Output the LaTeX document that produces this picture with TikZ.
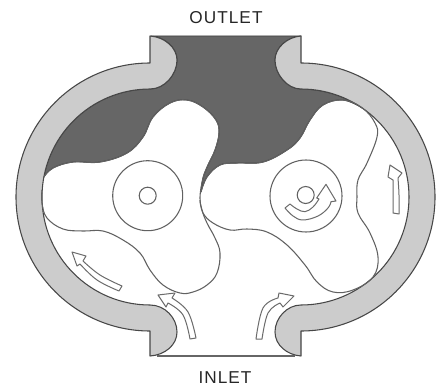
\documentclass[tikz,border=0pt]{standalone}
\usepackage{fontspec}
\setmainfont{Liberation Sans}[LetterSpace=6]
\tikzset{
  casing/.style={fill=black!20,draw=black!72,line width=0.8pt,line join=round},
  chamber/.style={fill=black!60,draw=black!75,line width=0.7pt,line join=round},
  rotor/.style={draw=black!62,line width=0.8pt},
  flowarrow/.style={fill=white,draw=black!58,line width=0.75pt,line join=round},
  caption/.style={font=\fontsize{12.9pt}{14pt}\selectfont,text=black!85,inner sep=0pt,anchor=base},
  sm/.style={smooth,tension=0.65}
}
\begin{document}
\begin{tikzpicture}[x=0.75pt,y=-0.75pt]
\useasboundingbox (0,0) rectangle (439,385);
\fill[white] (0,0) rectangle (439,385);
% discharge chamber
\path[chamber] (151,36) -- (301,36)
  .. controls (287,37) and (275,48) .. (275,60)
  .. controls (275,74) and (287,89) .. (301,89)
  arc[start angle=270,end angle=304.6,radius=108]
  -- plot[sm] coordinates {(362.4,108) (343,100) (323,105) (310,120) (300,138) (287,150) (263,162) (237,163) (220,165) (207,177) (201,192)}
  -- plot[sm] coordinates {(201,192) (203,178) (208,165) (215,150) (219,133) (216,120) (203,107) (187,100) (170,103) (153,117) (143,137) (127,153) (100,162) (73,162) (53,168) (43.8,177.1)}
  arc[start angle=190.6,end angle=270,radius=108]
  .. controls (165,89) and (177,74) .. (177,60)
  .. controls (177,48) and (165,37) .. (151,36) -- cycle;
% casing halves
\path[casing] (150,36) -- (150,63)
  arc[start angle=270,end angle=90,radius=134]
  -- (150,356)
  .. controls (165,355) and (177,345) .. (177,332)
  .. controls (177,318) and (165,305) .. (150,305)
  arc[start angle=90,end angle=270,radius=108]
  .. controls (165,89) and (177,74) .. (177,60)
  .. controls (177,48) and (165,37) .. (150,36) -- cycle;
\path[casing] (301,36) -- (301,63)
  arc[start angle=270,end angle=450,radius=134]
  -- (301,356)
  .. controls (287,355) and (275,345) .. (275,332)
  .. controls (275,318) and (287,305) .. (301,305)
  arc[start angle=90,end angle=-90,radius=108]
  .. controls (287,89) and (275,74) .. (275,60)
  .. controls (275,48) and (287,37) .. (301,36) -- cycle;
% inlet line
\draw[black!60,line width=0.9pt] (157,356) -- (295,356);
% rotors
\draw[rotor] plot[sm] coordinates {(43.8,177.1) (53,168) (73,162) (100,162) (127,153) (143,137) (153,117) (170,103) (187,100) (203,107) (216,120) (219,133) (215,150) (208,165) (203,178) (200,197) (202,210) (207,223) (215,238) (220,253) (217,273) (207,285) (193,292) (180,293) (163,285) (150,270) (140,253) (123,240) (103,231) (83,231) (63,229) (47,218) (42,203) (42,190)};
\draw[rotor] plot[sm] coordinates {(201,192) (207,177) (220,165) (237,163) (263,162) (287,150) (300,138) (310,120) (323,105) (343,100) (362.4,108) (375,123) (377,137) (367,163) (358,180) (357,197) (358,213) (370,233) (378,257) (373,277) (353,290) (333,292) (317,282) (305,265) (287,245) (267,232) (247,229) (230,230) (213,223) (203,213) (200,200)};
% shafts
\draw[rotor] (147.7,195.7) circle (35);
\draw[rotor] (147.7,195.7) circle (8.5);
\draw[rotor] (306,196) circle (36);
\draw[rotor] (305.7,195) circle (8.5);
% rotation arrow
\path[flowarrow] (285,208) -- (290,204)
  -- plot[sm] coordinates {(290,204) (297,209) (305,211.7) (313,207) (319,199)}
  -- (316.7,198) -- (326,184.3) -- (336,201) -- (331,201.7)
  -- plot[sm] coordinates {(331,201.7) (328,208) (318,216) (303,220) (293,216) (285,208)} -- cycle;
% flow arrows
\path[flowarrow] (72,252) -- (86,256) -- (83,261)
  -- plot[sm] coordinates {(83,261) (100,275) (122,286)}
  -- (119,291)
  -- plot[sm] coordinates {(119,291) (97,280) (80,264)}
  -- (77,266) -- cycle;
\path[flowarrow] (158,295) -- (175,293) -- (172,298)
  -- plot[sm] coordinates {(172,298) (188,312) (196,338)}
  -- (190,339)
  -- plot[sm] coordinates {(190,339) (183,315) (168,303)}
  -- (166,307) -- cycle;
\path[flowarrow] (294,296) -- (283,307) -- (280,303)
  -- plot[sm] coordinates {(280,303) (268,313) (262,339)}
  -- (256,339)
  -- plot[sm] coordinates {(256,339) (263,308) (278,298)}
  -- (279,293) -- cycle;
\path[flowarrow] (390,165) -- (402,173) -- (398,178)
  -- plot[sm] coordinates {(398,178) (399,195) (399,214)}
  -- (393,213)
  -- plot[sm] coordinates {(393,213) (393,195) (393,180)}
  -- (388,177) -- cycle;
% labels
\node[caption] (outlet) at (226,24) {OUTLET};
\node[caption] (inlet) at (225,383) {INLET};
\end{tikzpicture}
\end{document}
